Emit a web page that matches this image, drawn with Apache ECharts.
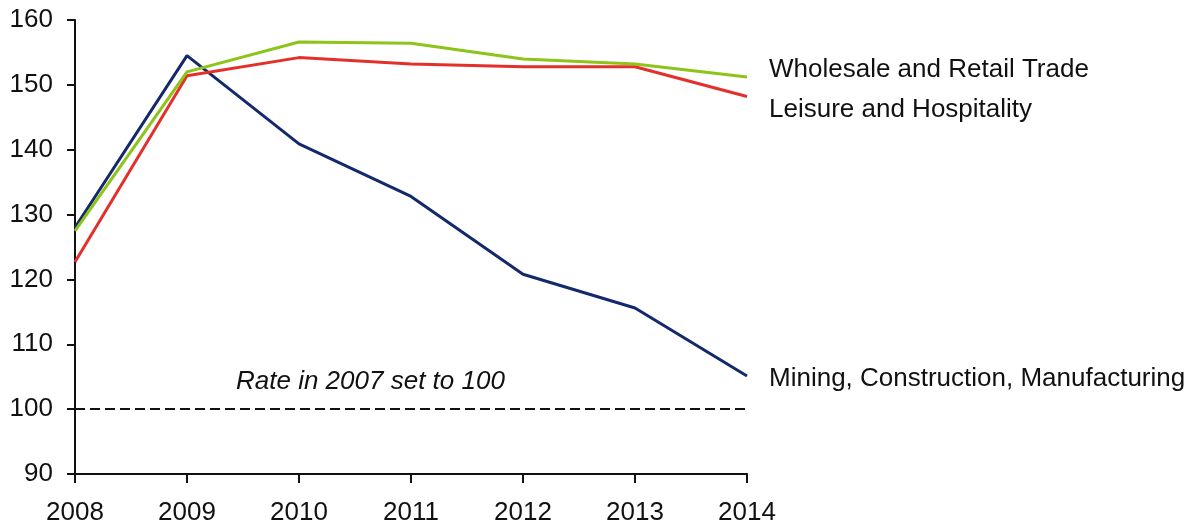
<!DOCTYPE html>
<html lang="en">
  <head>
    <meta charset="UTF-8" />
    <title>rate index</title>
    <script src="https://cdn.jsdelivr.net/npm/echarts@6/dist/echarts.min.js"></script>
    <style>
      html, body { margin: 0; padding: 0; background: #fff; }
      #main { width: 1188px; height: 527px; }
    </style>
  </head>
  <body>
    <div id="main"></div>
    <script>
      const years = ['2008', '2009', '2010', '2011', '2012', '2013', '2014']
      const wholesale = [127.5, 152.0, 156.6, 156.4, 154.0, 153.2, 151.2]
      const leisure = [122.7, 151.4, 154.2, 153.2, 152.8, 152.8, 148.2]
      const mining = [128.0, 154.5, 140.9, 132.8, 120.8, 115.6, 105.1]
      const baseline = 100

      const font = 'Arial, "Liberation Sans", sans-serif'
      const axisColor = '#111'

      const endLabel = (dy) => ({
        show: true,
        formatter: '{a}',
        distance: 22,
        offset: [0, dy],
        color: '#111',
        fontFamily: font,
        fontSize: 26
      })

      const line = (name, data, color, dy, extra) => Object.assign({
        name: name,
        type: 'line',
        data: data,
        symbol: 'none',
        silent: true,
        animation: false,
        lineStyle: { color: color, width: 3 },
        itemStyle: { color: color },
        endLabel: endLabel(dy)
      }, extra || {})

      const chart = echarts.init(document.getElementById('main'))
      chart.setOption({
        animation: false,
        grid: { left: 75, right: 441, top: 20, bottom: 53 },
        xAxis: {
          type: 'category',
          data: years,
          boundaryGap: false,
          axisLine: { lineStyle: { color: axisColor, width: 2 } },
          axisTick: { alignWithLabel: true, length: 9, lineStyle: { color: axisColor, width: 2 } },
          axisLabel: { color: '#111', fontFamily: font, fontSize: 26, margin: 26 }
        },
        yAxis: {
          type: 'value',
          min: 90,
          max: 160,
          interval: 10,
          splitLine: { show: false },
          axisLine: { show: true, lineStyle: { color: axisColor, width: 2 } },
          axisTick: { show: true, length: 8, lineStyle: { color: axisColor, width: 2 } },
          axisLabel: { color: '#111', fontFamily: font, fontSize: 26, margin: 22 }
        },
        graphic: [
          {
            type: 'text',
            left: 236,
            top: 369,
            style: {
              text: 'Rate in 2007 set to 100',
              fontFamily: font,
              fontSize: 26,
              fontStyle: 'italic',
              fill: '#111'
            }
          }
        ],
        series: [
          line('Mining, Construction, Manufacturing', mining, '#13296b', 3, {
            markLine: {
              silent: true,
              symbol: 'none',
              label: { show: false },
              lineStyle: { color: '#111', width: 2, type: [10, 5] },
              data: [{ yAxis: baseline }]
            }
          }),
          line('Leisure and Hospitality', leisure, '#e4302a', 13),
          line('Wholesale and Retail Trade', wholesale, '#8cc41a', -7)
        ]
      })
    </script>
  </body>
</html>
